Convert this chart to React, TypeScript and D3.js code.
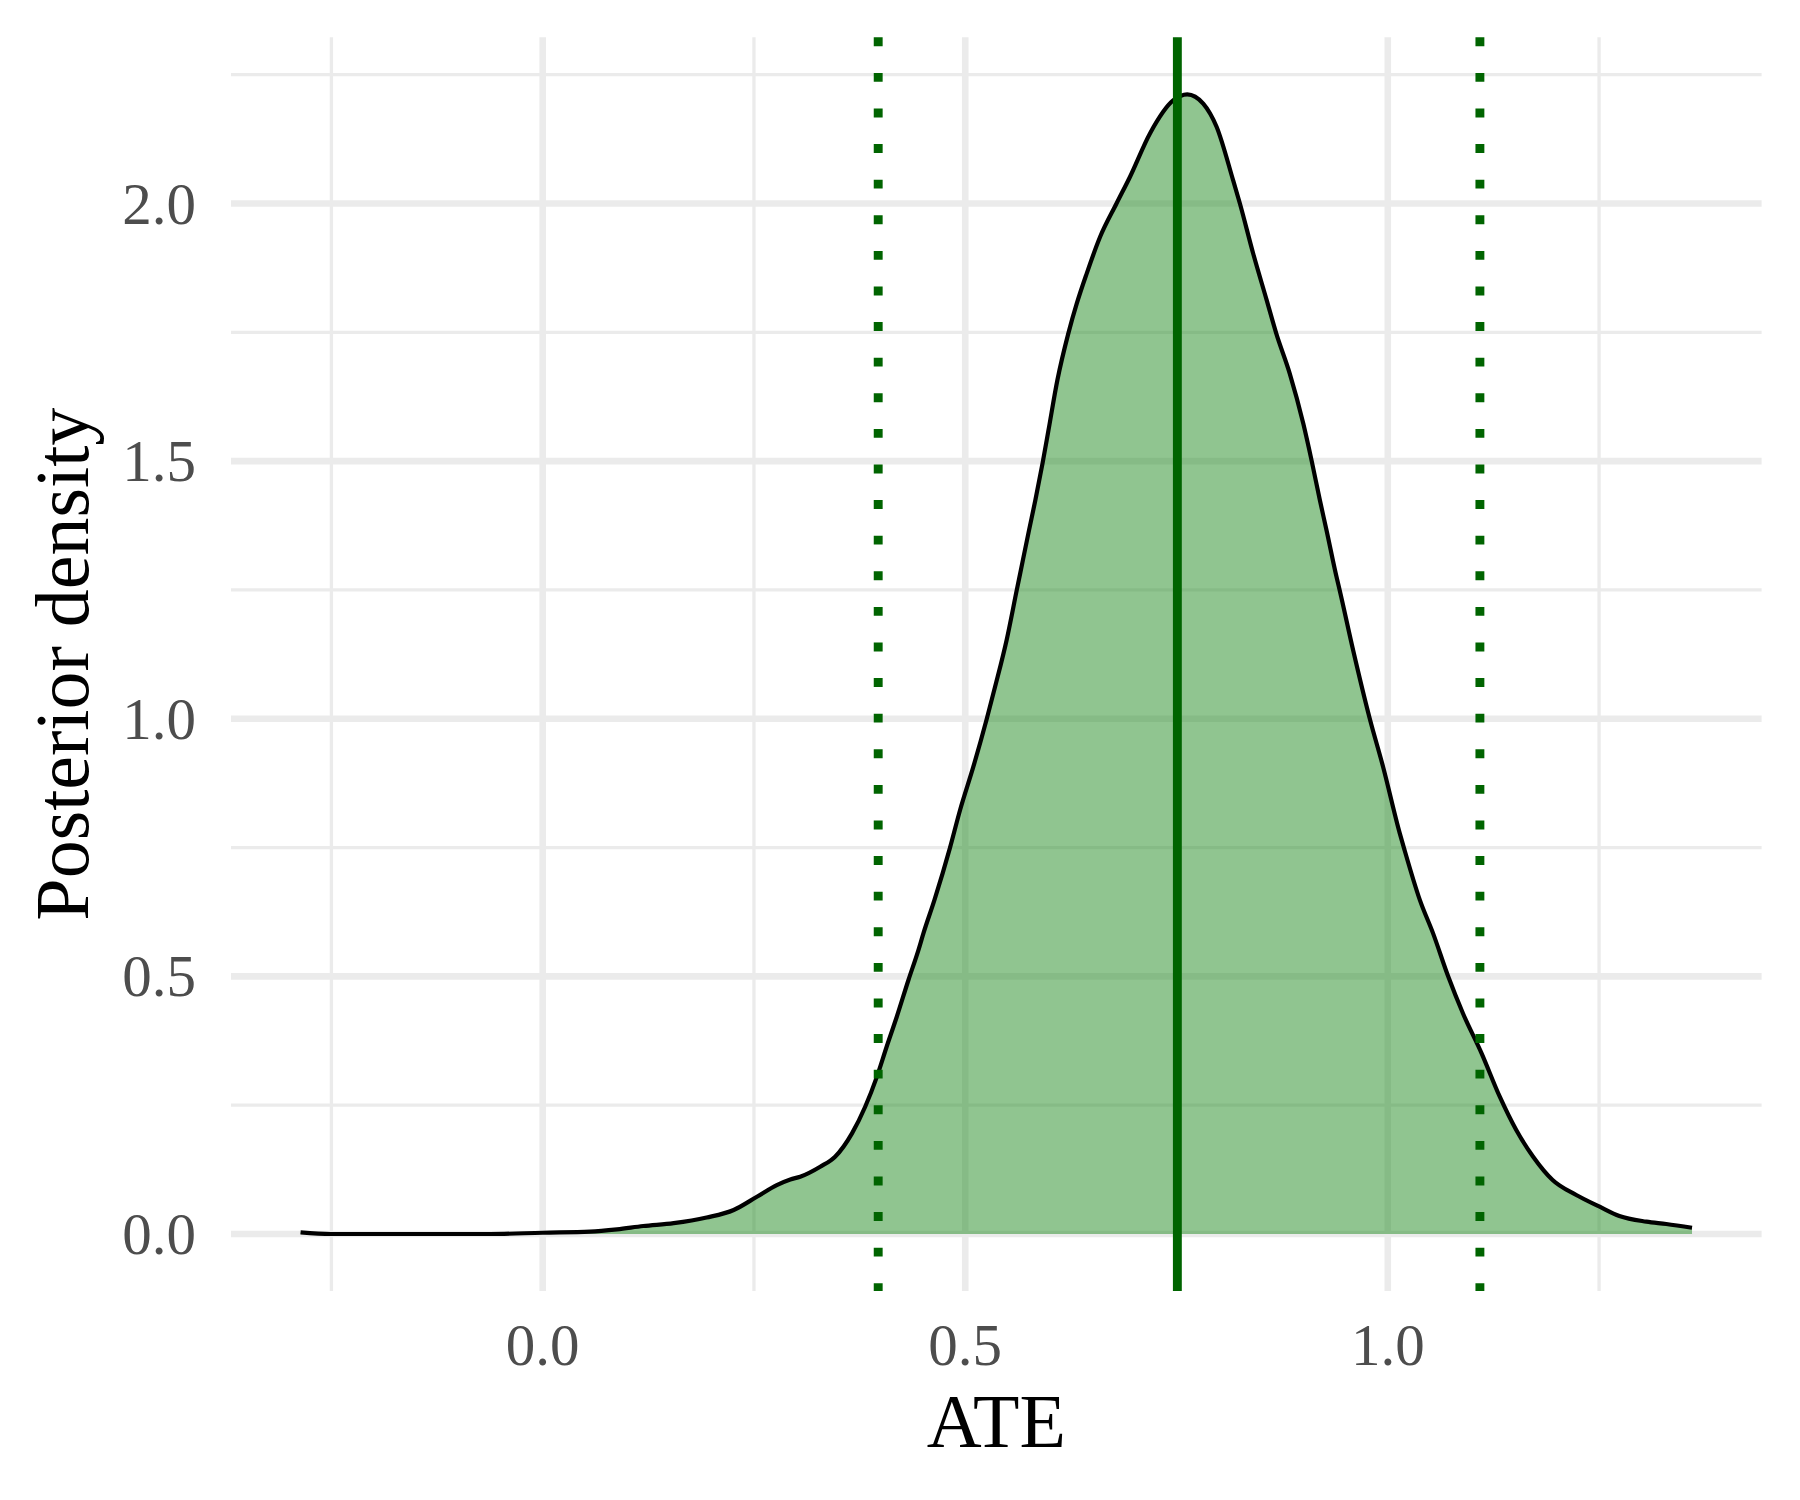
// Posterior density of the ATE with the mean (solid) and interval bounds (dotted)
import React from 'react';
import { scaleLinear, area, line, curveMonotoneX, extent, max, format } from 'd3';

const ateGrid = [
  -0.2865, -0.251, -0.219, -0.062, 0.0, 0.056, 0.088, 0.119, 0.155, 0.194,
  0.226, 0.2535, 0.277, 0.293, 0.3047, 0.3284, 0.346, 0.366, 0.3816, 0.3954,
  0.407, 0.419, 0.4328, 0.4446, 0.4505, 0.4635, 0.482, 0.4939, 0.5096, 0.5255,
  0.5353, 0.549, 0.561, 0.565, 0.5755, 0.583, 0.5915, 0.5985, 0.609, 0.622,
  0.632, 0.6437, 0.6595, 0.679, 0.695, 0.7186, 0.746, 0.7627, 0.7816, 0.7974,
  0.817, 0.825, 0.8407, 0.8566, 0.868, 0.884, 0.900, 0.910, 0.9196, 0.9275,
  0.9393, 0.943, 0.959, 0.9787, 0.9944, 1.0142, 1.019, 1.038, 1.0536,
  1.0713, 1.089, 1.111, 1.1325, 1.152, 1.172, 1.195, 1.223, 1.2507, 1.274,
  1.306, 1.3295, 1.360
];
const densityValues = [
  0.003, 0.0, 0.0, 0.0, 0.0025, 0.0045, 0.009, 0.0155, 0.021, 0.032,
  0.0466, 0.0724, 0.095, 0.106, 0.1112, 0.1306, 0.150, 0.1954, 0.247, 0.305,
  0.3635, 0.4217, 0.493, 0.551, 0.5835, 0.648, 0.75, 0.823, 0.907, 1.0,
  1.062, 1.153, 1.25, 1.282, 1.366, 1.4245, 1.496, 1.560, 1.657, 1.748,
  1.806, 1.864, 1.935, 2.0, 2.052, 2.136, 2.20, 2.212, 2.194, 2.149,
  2.045, 2.0, 1.903, 1.813, 1.748, 1.670, 1.573, 1.50, 1.4245, 1.366,
  1.2756, 1.25, 1.133, 1.0, 0.907, 0.7776, 0.75, 0.648, 0.5835,
  0.5007, 0.428, 0.3506, 0.2665, 0.2018, 0.150, 0.1048, 0.0757, 0.053, 0.035,
  0.024, 0.0194, 0.0122
];
const meanATE = 0.751;
const intervalBounds = [0.397, 1.109];

const xMajorTicks = [0, 0.5, 1.0];
const xMinorTicks = [-0.25, 0.25, 0.75, 1.25];
const yMajorTicks = [0, 0.5, 1.0, 1.5, 2.0];
const yMinorTicks = [0.25, 0.75, 1.25, 1.75, 2.25];

const width = 1800, height = 1500;
const panel = { left: 231, right: 1761.6, top: 37.3, bottom: 1291 };
const grid = '#EBEBEB';
const fontFamily = '"Liberation Serif", "Times New Roman", serif';

function expand(lo: number, hi: number) {
  const pad = (hi - lo) * 0.05;
  return [lo - pad, hi + pad];
}

export default function App() {
  const data = ateGrid.map((x, i) => ({ x, y: densityValues[i] }));
  const [xlo, xhi] = extent(ateGrid) as [number, number];
  const ymax = max(densityValues) as number;

  const x = scaleLinear().domain(expand(xlo, xhi)).range([panel.left, panel.right]);
  const y = scaleLinear().domain(expand(0, ymax)).range([panel.bottom, panel.top]);
  const fmt = format('.1f');

  const areaFn = area<{ x: number; y: number }>()
    .x(d => x(d.x)).y0(y(0)).y1(d => y(d.y))
    .curve(curveMonotoneX);
  const lineFn = line<{ x: number; y: number }>()
    .x(d => x(d.x)).y(d => y(d.y))
    .curve(curveMonotoneX);

  const lwd = 8.9;

  return (
    <svg width={width} height={height} style={{ position: 'absolute', left: 0, top: 0, background: '#fff' }}>
      <rect width={width} height={height} fill="#fff" />
      {/* minor grid */}
      {xMinorTicks.map(t => (
        <line key={'xm' + t} x1={x(t)} x2={x(t)} y1={panel.top} y2={panel.bottom} stroke={grid} strokeWidth={3.3} />
      ))}
      {yMinorTicks.map(t => (
        <line key={'ym' + t} x1={panel.left} x2={panel.right} y1={y(t)} y2={y(t)} stroke={grid} strokeWidth={3.3} />
      ))}
      {/* major grid */}
      {xMajorTicks.map(t => (
        <line key={'xM' + t} x1={x(t)} x2={x(t)} y1={panel.top} y2={panel.bottom} stroke={grid} strokeWidth={6.6} />
      ))}
      {yMajorTicks.map(t => (
        <line key={'yM' + t} x1={panel.left} x2={panel.right} y1={y(t)} y2={y(t)} stroke={grid} strokeWidth={6.6} />
      ))}

      <path d={areaFn(data) || ''} fill="rgba(34,139,34,0.5)" stroke="none" />
      <path d={lineFn(data) || ''} fill="none" stroke="#000" strokeWidth={4.2} strokeLinejoin="round" />

      {intervalBounds.map(b => (
        <line key={'ci' + b} x1={x(b)} x2={x(b)} y1={panel.top} y2={panel.bottom}
          stroke="#006400" strokeWidth={lwd} strokeDasharray={`${lwd} ${lwd * 3}`} />
      ))}
      <line x1={x(meanATE)} x2={x(meanATE)} y1={panel.top} y2={panel.bottom} stroke="#006400" strokeWidth={lwd} />

      {/* axis text */}
      {xMajorTicks.map(t => (
        <text key={'xt' + t} x={x(t)} y={1365} textAnchor="middle" fontFamily={fontFamily} fontSize={59} fill="#4D4D4D">{fmt(t)}</text>
      ))}
      {yMajorTicks.map(t => (
        <text key={'yt' + t} x={196} y={y(t) + 20} textAnchor="end" fontFamily={fontFamily} fontSize={59} fill="#4D4D4D">{fmt(t)}</text>
      ))}
      <text x={(panel.left + panel.right) / 2} y={1447} textAnchor="middle" fontFamily={fontFamily} fontSize={76} fill="#000">ATE</text>
      <text transform={`translate(88,${(panel.top + panel.bottom) / 2}) rotate(-90)`} textAnchor="middle"
        fontFamily={fontFamily} fontSize={76} fill="#000">Posterior density</text>
    </svg>
  );
}
